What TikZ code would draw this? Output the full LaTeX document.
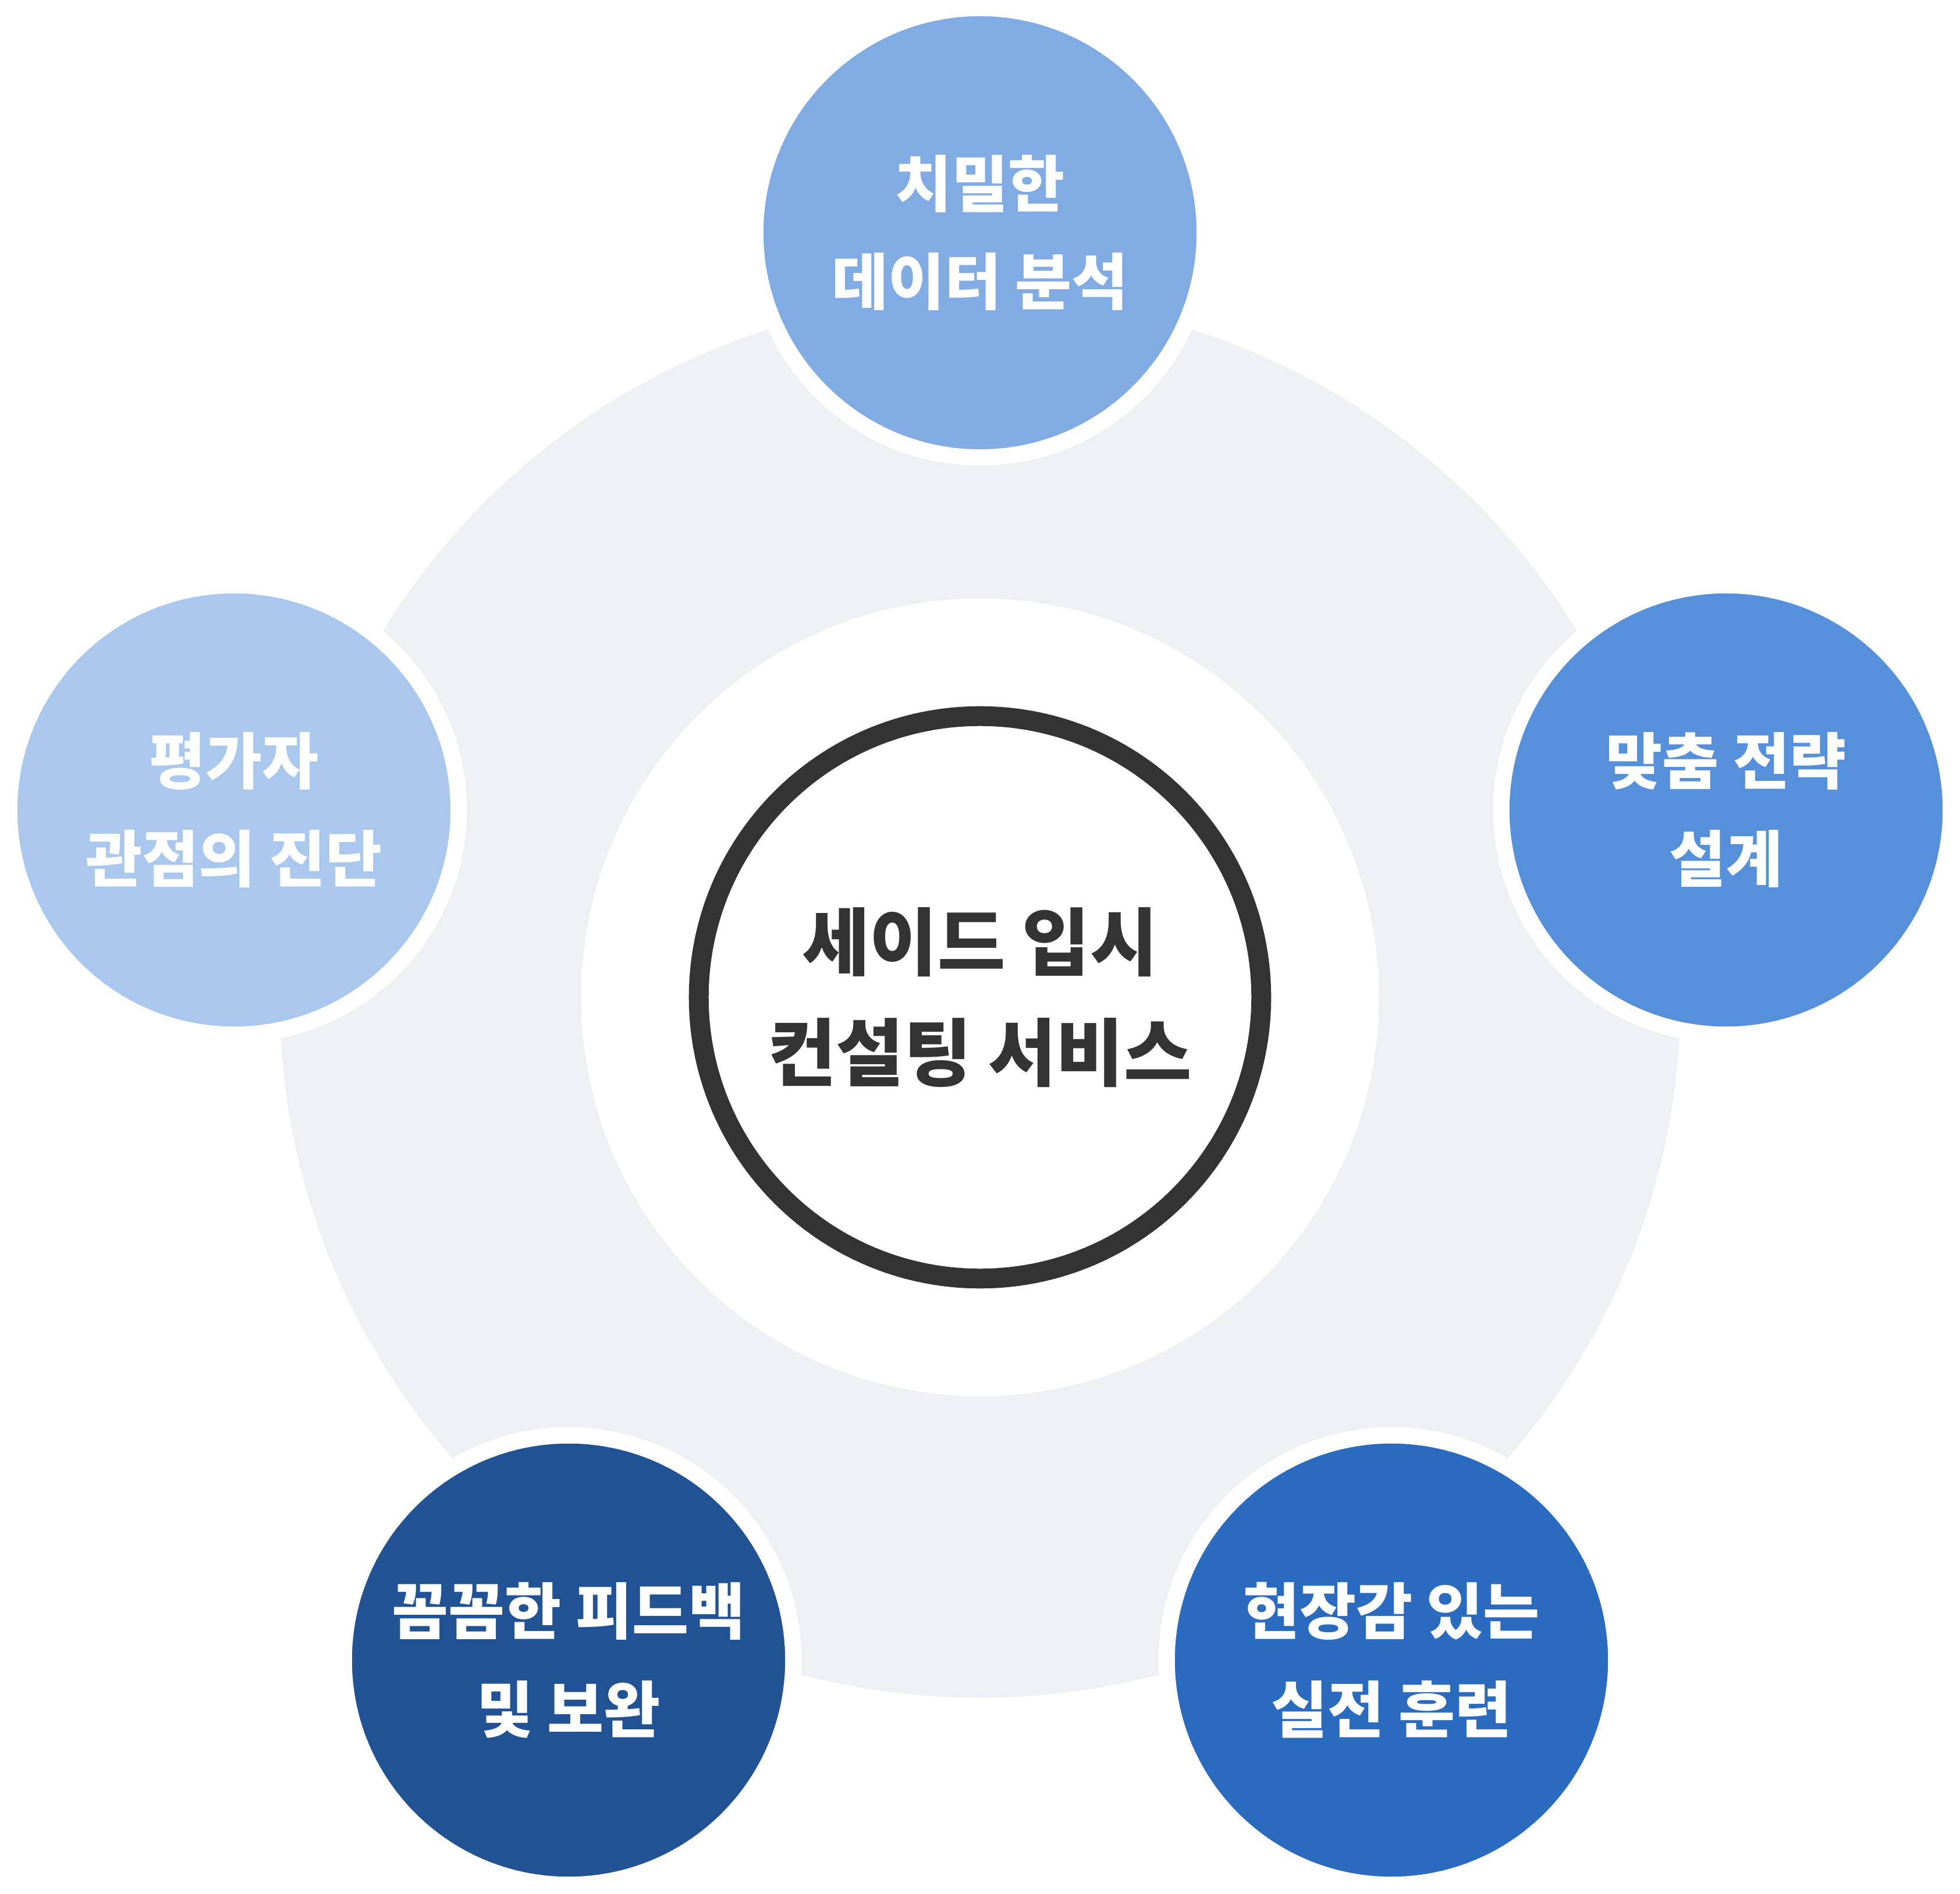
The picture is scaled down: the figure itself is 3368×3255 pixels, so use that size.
\documentclass[tikz,border=0pt]{standalone}
\usepackage{fontspec}
\setmainfont{Noto Sans CJK KR}
\usepackage{xcolor}
\usepackage{tikz}
\definecolor{ringgray}{HTML}{EFF0F4}
\definecolor{hubline}{HTML}{333333}
\definecolor{blueA}{HTML}{80ABE3}
\definecolor{blueB}{HTML}{5690DB}
\definecolor{blueC}{HTML}{2A6ABF}
\definecolor{blueD}{HTML}{215294}
\definecolor{blueE}{HTML}{AAC8ED}
\tikzset{every node/.style={align=center}}

\begin{document}
\begin{tikzpicture}[
    x=0.01cm, y=-0.01cm,
    spoke/.style={circle, draw=white, line width=0.28cm, minimum size=7.72cm, inner sep=0pt,
                  text=white, font=\fontsize{30pt}{48pt}\selectfont\bfseries},
    hub/.style={circle, draw=hubline, fill=white, line width=0.34cm, minimum size=9.66cm, inner sep=0pt,
                text=hubline, font=\fontsize{36pt}{54pt}\selectfont\bfseries}
]
  \useasboundingbox (0,0) rectangle (3368,3255);

  % background ring
  \fill[ringgray] (1684,1714) circle[radius=12.03cm];
  \fill[white]    (1684,1714) circle[radius=6.85cm];

  \node (HUB)  at (1684,1714) [hub] {세이드 입시\\컨설팅 서비스};

  \node (DATA) at (1684,400)  [spoke, fill=blueA] {치밀한\\데이터 분석};
  \node (PLAN) at (2966,1392) [spoke, fill=blueB] {맞춤 전략\\설계};
  \node (DRIL) at (2391,2853) [spoke, fill=blueC] {현장감 있는\\실전 훈련};
  \node (FEED) at (977,2853)  [spoke, fill=blueD] {꼼꼼한 피드백\\및 보완};
  \node (DIAG) at (402,1392)  [spoke, fill=blueE] {평가자\\관점의 진단};
\end{tikzpicture}
\end{document}
